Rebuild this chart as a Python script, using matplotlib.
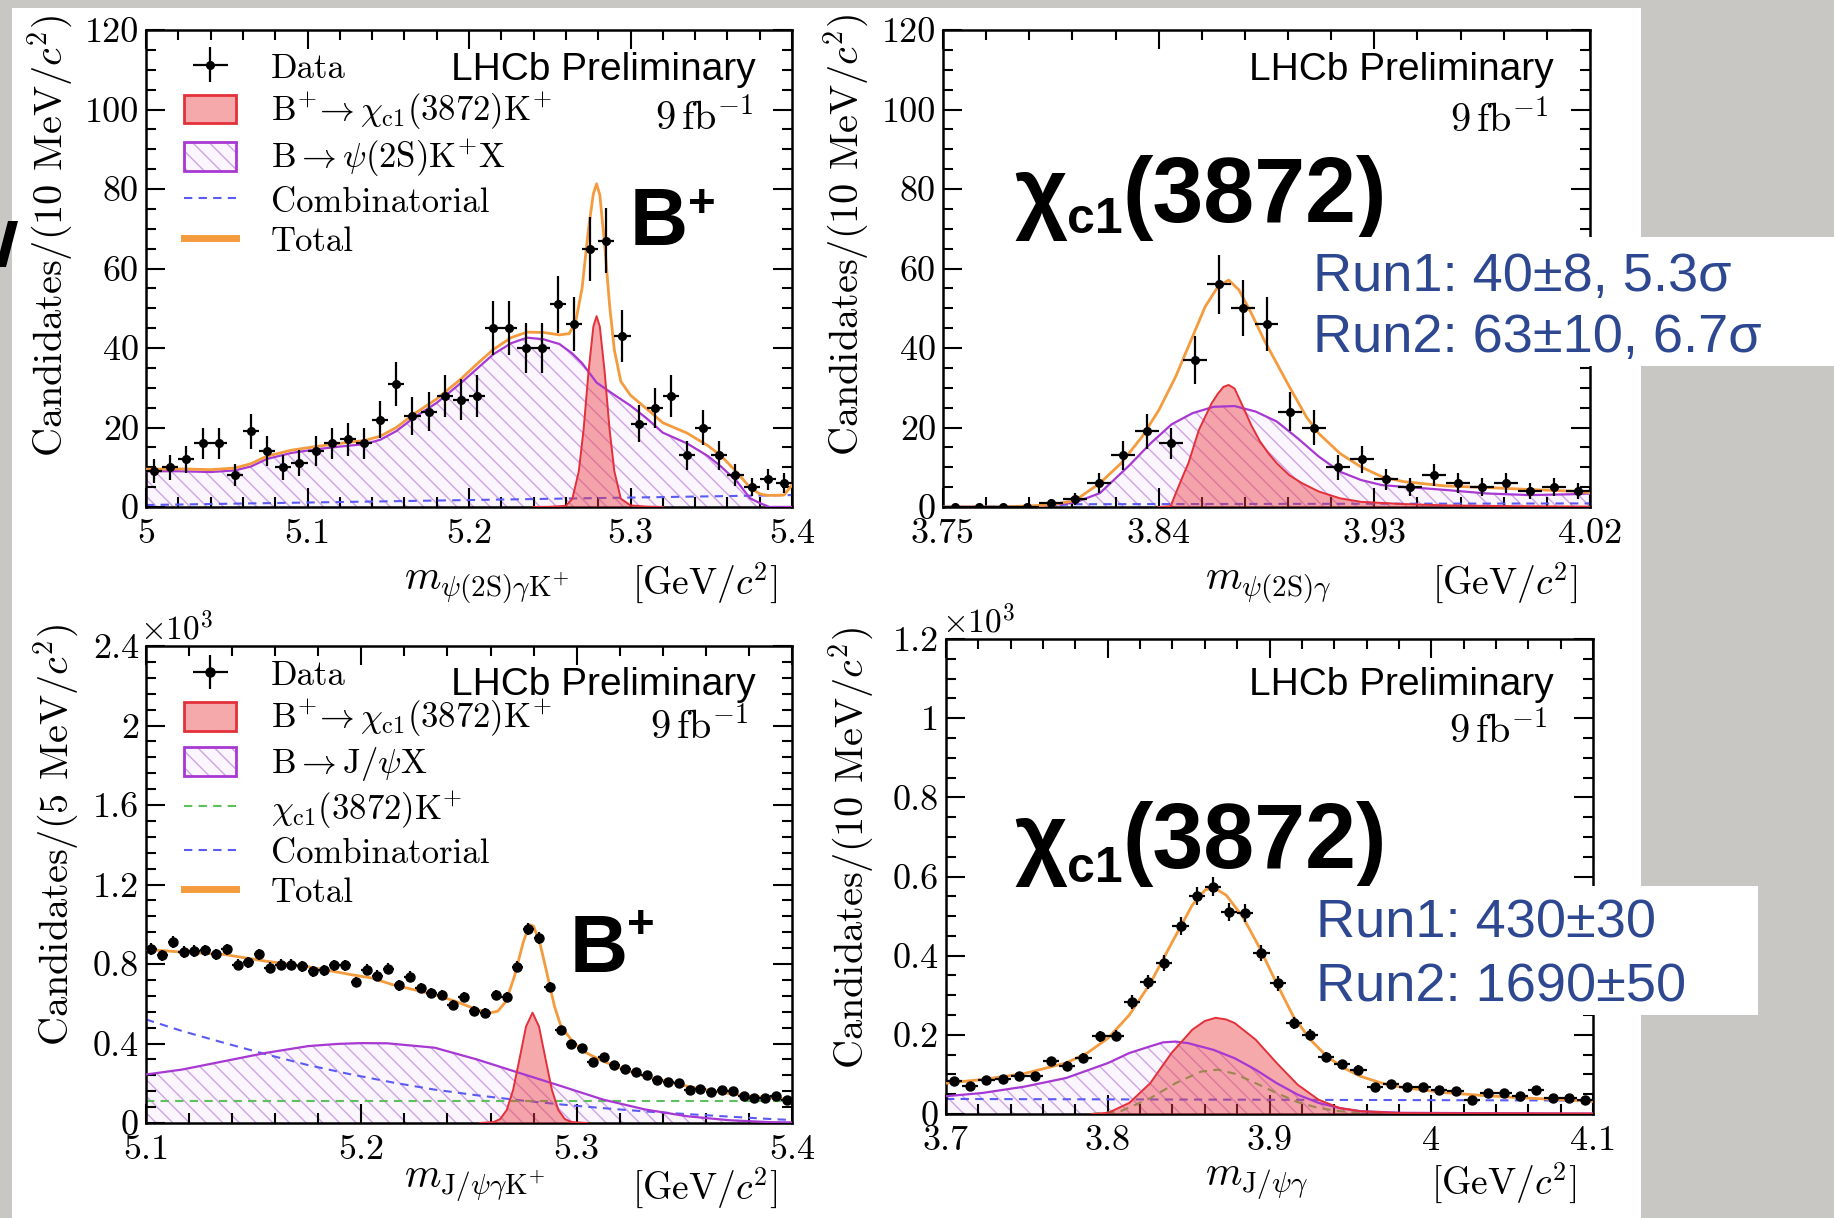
import numpy as np
import matplotlib
matplotlib.use("Agg")
import matplotlib.pyplot as plt
from matplotlib.patches import Patch, Rectangle, Polygon
from matplotlib.lines import Line2D
from matplotlib.ticker import AutoMinorLocator

plt.rcParams["font.family"] = "cmr10"
plt.rcParams["mathtext.fontset"] = "cm"
plt.rcParams["axes.formatter.use_mathtext"] = True
plt.rcParams["axes.unicode_minus"] = False
plt.rcParams["hatch.linewidth"] = 1.0

W, H = 1834, 1218

# ---------------- B+ -> psi(2S) gamma K+ (top left) ----------------
tl_counts = [9, 10, 12, 16, 16, 8, 19, 14, 10, 11, 14, 16, 17, 16, 22, 31, 23, 24, 28, 27,
             28, 45, 45, 40, 40, 51, 46, 65, 67, 43, 21, 25, 28, 13, 20, 13, 8, 5, 7, 6]
tl_total_x = [5.000, 5.020, 5.040, 5.055, 5.065, 5.075, 5.090, 5.105, 5.120, 5.135, 5.145,
              5.155, 5.166, 5.180, 5.195, 5.205, 5.215, 5.226, 5.236, 5.246, 5.256, 5.262,
              5.266, 5.270, 5.274, 5.277, 5.279, 5.281, 5.284, 5.287, 5.290, 5.294, 5.300,
              5.310, 5.320, 5.335, 5.348, 5.356, 5.366, 5.374, 5.380, 5.385, 5.395, 5.400]
tl_total_y = [9.5, 9.6, 9.4, 9.8, 10.9, 12.8, 14.3, 15.2, 16.0, 16.7, 17.8,
              20.0, 23.4, 27.2, 32.2, 36.0, 39.6, 42.6, 44.0, 43.9, 43.3, 43.6,
              46.5, 55.0, 70.0, 78.8, 81.3, 78.5, 66.0, 51.0, 39.5, 31.6, 28.1,
              24.7, 21.2, 18.6, 15.4, 12.9, 8.7, 4.9, 3.3, 2.9, 3.0, 5.5]
tl_bkg_x = [5.000, 5.020, 5.040, 5.055, 5.065, 5.075, 5.090, 5.105, 5.120, 5.135, 5.145, 5.155,
            5.166, 5.180, 5.195, 5.205, 5.215, 5.226, 5.236, 5.246, 5.256, 5.264, 5.270, 5.279,
            5.290, 5.300, 5.310, 5.320, 5.335, 5.348, 5.356, 5.366, 5.374, 5.380, 5.386, 5.400]
tl_bkg_y = [9.0, 9.0, 8.8, 9.2, 10.2, 12.1, 13.6, 14.5, 15.2, 15.8, 16.9, 19.1,
            22.5, 26.2, 31.2, 34.8, 38.4, 41.2, 42.6, 42.2, 41.0, 38.6, 36.2, 31.3,
            28.2, 25.5, 22.3, 18.7, 16.0, 12.8, 10.2, 6.4, 2.2, 1.0, 0.0, 0.0]
tl_sig_x = [5.240, 5.250, 5.260, 5.264, 5.268, 5.271, 5.274, 5.277, 5.279, 5.281, 5.284,
            5.287, 5.290, 5.294, 5.300, 5.310, 5.320]
tl_sig_y = [0.0, 0.05, 0.3, 2.1, 9.0, 19.7, 34.0, 45.4, 48.0, 45.4, 34.0,
            19.7, 9.0, 2.1, 0.4, 0.1, 0.0]
tl_comb_x = [5.0, 5.4]
tl_comb_y = [0.5, 3.0]

# ---------------- psi(2S) gamma mass (top right) ----------------
tr_counts = [0, 0, 0, 0, 1, 2, 6, 13, 19, 16, 37, 56, 50, 46, 24, 20, 10, 12, 7, 5,
             8, 6, 5, 6, 4, 5, 4]
tr_total_x = [3.750, 3.775, 3.7944, 3.805, 3.8155, 3.8243, 3.8331, 3.8401, 3.8471, 3.8541,
              3.8594, 3.8647, 3.8692, 3.8735, 3.8787, 3.8840, 3.8893, 3.8945, 3.9016, 3.9068,
              3.9156, 3.9244, 3.9332, 3.9420, 3.9595, 3.9770, 3.9947, 4.0122, 4.0200]
tr_total_y = [0.0, 0.0, 0.5, 1.6, 6.0, 11.0, 17.7, 24.4, 32.8, 42.8,
              50.4, 55.4, 57.1, 54.6, 48.7, 42.0, 36.1, 30.3, 22.7, 18.5,
              13.5, 10.1, 7.6, 6.4, 5.3, 4.9, 4.4, 4.0, 3.6]
tr_bkg_x = [3.750, 3.785, 3.795, 3.805, 3.8155, 3.8278, 3.8366, 3.8454, 3.8541, 3.8629,
            3.8717, 3.8805, 3.8893, 3.8980, 3.9068, 3.9156, 3.9244, 3.9332, 3.9420, 3.9595,
            3.9770, 3.9947, 4.0122, 4.0200]
tr_bkg_y = [0.0, 0.1, 0.5, 1.1, 3.5, 10.5, 16.0, 20.8, 23.6, 25.2,
            25.4, 24.0, 21.5, 17.3, 12.7, 8.9, 6.8, 5.5, 5.1, 4.3,
            3.4, 3.0, 3.2, 3.4]
tr_sig_x = [3.840, 3.845, 3.8471, 3.8506, 3.8524, 3.8568, 3.8621, 3.8647, 3.8670, 3.8692,
            3.8717, 3.8752, 3.8787, 3.8823, 3.8858, 3.8893, 3.8945, 3.8998, 3.9068, 3.9156,
            3.9244, 3.9420, 3.9600, 3.9900, 4.0200]
tr_sig_y = [0.0, 0.2, 3.4, 8.5, 11.0, 19.4, 26.1, 28.5, 30.2, 30.7,
            29.8, 25.2, 20.5, 16.5, 13.5, 11.0, 8.0, 6.0, 3.9, 2.2,
            1.3, 0.75, 0.4, 0.2, 0.1]
tr_comb_x = [3.750, 3.785, 3.805, 4.020]
tr_comb_y = [0.0, 0.1, 0.7, 0.9]

# ---------------- B+ -> J/psi gamma K+ (bottom left), in 10^3 ----------------
bl_counts = [0.876, 0.843, 0.910, 0.860, 0.865, 0.868, 0.848, 0.873, 0.797, 0.809,
             0.848, 0.781, 0.797, 0.797, 0.789, 0.764, 0.769, 0.793, 0.793, 0.709,
             0.772, 0.742, 0.777, 0.692, 0.736, 0.680, 0.655, 0.646, 0.593, 0.633,
             0.566, 0.554, 0.644, 0.633, 0.786, 0.977, 0.929, 0.685, 0.467, 0.400,
             0.378, 0.306, 0.333, 0.294, 0.272, 0.256, 0.239, 0.214, 0.207, 0.199,
             0.168, 0.172, 0.157, 0.168, 0.160, 0.135, 0.126, 0.126, 0.135, 0.118]
bl_total_x = [5.1000, 5.1168, 5.1363, 5.1558, 5.1754, 5.1949, 5.2047, 5.2145, 5.2243, 5.2340,
              5.2438, 5.2536, 5.2594, 5.2633, 5.2672, 5.2711, 5.2751, 5.2780, 5.2800, 5.2829,
              5.2858, 5.2897, 5.2927, 5.2986, 5.3044, 5.3122, 5.3220, 5.3318, 5.3415, 5.3513,
              5.3611, 5.3708, 5.3806, 5.3904, 5.4000]
bl_total_y = [0.873, 0.860, 0.848, 0.814, 0.786, 0.747, 0.730, 0.696, 0.671, 0.646,
              0.612, 0.571, 0.554, 0.562, 0.612, 0.738, 0.906, 0.998, 0.990, 0.906,
              0.772, 0.587, 0.487, 0.403, 0.353, 0.311, 0.269, 0.235, 0.210, 0.185,
              0.165, 0.148, 0.135, 0.126, 0.118]
bl_bkg_x = [5.1000, 5.1168, 5.1363, 5.1558, 5.1754, 5.1890, 5.2000, 5.2120, 5.2340, 5.2536,
            5.2731, 5.2927, 5.3122, 5.3318, 5.3513, 5.3708, 5.3904, 5.4000]
bl_bkg_y = [0.244, 0.269, 0.311, 0.353, 0.387, 0.398, 0.402, 0.401, 0.379, 0.320,
            0.253, 0.186, 0.118, 0.068, 0.034, 0.014, 0.004, 0.003]
bl_sig_x = [5.2550, 5.2615, 5.2645, 5.2675, 5.2705, 5.2735, 5.2765, 5.2795, 5.2825, 5.2855,
            5.2885, 5.2915, 5.2945, 5.2975, 5.3050]
bl_sig_y = [0.000, 0.005, 0.020, 0.065, 0.167, 0.325, 0.486, 0.555, 0.486, 0.325,
            0.167, 0.065, 0.020, 0.005, 0.000]
bl_comb_x = [5.100, 5.117, 5.136, 5.156, 5.175, 5.195, 5.215, 5.234, 5.254, 5.273,
             5.293, 5.312, 5.332, 5.351, 5.371, 5.390, 5.400]
bl_comb_y = [0.521, 0.462, 0.404, 0.345, 0.292, 0.245, 0.203, 0.168, 0.139, 0.115,
             0.093, 0.075, 0.058, 0.045, 0.032, 0.020, 0.015]
bl_peak_x = [5.1, 5.4]
bl_peak_y = [0.11, 0.11]

# ---------------- J/psi gamma mass (bottom right), in 10^3 ----------------
br_counts = [0.083, 0.072, 0.087, 0.089, 0.097, 0.097, 0.133, 0.122, 0.141, 0.196,
             0.198, 0.283, 0.333, 0.381, 0.475, 0.551, 0.574, 0.511, 0.508, 0.406,
             0.330, 0.230, 0.200, 0.145, 0.126, 0.112, 0.068, 0.077, 0.068, 0.068,
             0.060, 0.057, 0.035, 0.053, 0.053, 0.046, 0.061, 0.041, 0.041, 0.035]
br_total_x = [3.7000, 3.7223, 3.7483, 3.7743, 3.7873, 3.8003, 3.8133, 3.8263, 3.8394, 3.8523,
              3.8602, 3.8654, 3.8732, 3.8835, 3.8940, 3.9044, 3.9148, 3.9252, 3.9356, 3.9460,
              3.9564, 3.9694, 3.9824, 4.0084, 4.0344, 4.0604, 4.0864, 4.1000]
br_total_y = [0.078, 0.087, 0.102, 0.129, 0.154, 0.192, 0.250, 0.330, 0.431, 0.528,
              0.566, 0.572, 0.553, 0.498, 0.419, 0.330, 0.246, 0.188, 0.145, 0.116,
              0.095, 0.078, 0.067, 0.054, 0.046, 0.040, 0.035, 0.032]
br_bkg_x = [3.7000, 3.7223, 3.7483, 3.7743, 3.8003, 3.8133, 3.8263, 3.8342, 3.8419, 3.8497,
            3.8654, 3.8784, 3.8914, 3.9044, 3.9174, 3.9304, 3.9434, 3.9564, 3.9824, 4.0344,
            4.1000]
br_bkg_y = [0.045, 0.053, 0.069, 0.091, 0.129, 0.154, 0.171, 0.181, 0.183, 0.179,
            0.162, 0.141, 0.112, 0.078, 0.049, 0.028, 0.015, 0.007, 0.003, 0.002,
            0.001]
br_sig_x = [3.7900, 3.8003, 3.8133, 3.8263, 3.8394, 3.8523, 3.8600, 3.8667, 3.8730, 3.8784,
            3.8914, 3.9044, 3.9174, 3.9304, 3.9434, 3.9564, 3.9824, 4.1000]
br_sig_y = [0.000, 0.003, 0.028, 0.078, 0.154, 0.213, 0.235, 0.243, 0.239, 0.230,
            0.188, 0.129, 0.074, 0.036, 0.015, 0.007, 0.002, 0.001]
br_peak_x = [3.7900, 3.8080, 3.8263, 3.8420, 3.8576, 3.8680, 3.8784, 3.8914, 3.9044, 3.9174,
             3.9304, 3.9434, 3.9600]
br_peak_y = [0.000, 0.007, 0.040, 0.078, 0.107, 0.112, 0.102, 0.078, 0.053, 0.030,
             0.015, 0.007, 0.002]
br_comb_x = [3.7, 4.1]
br_comb_y = [0.038, 0.034]

# tick labels
tl_xticks, tl_xlabels = [5.0, 5.1, 5.2, 5.3, 5.4], ["5", "5.1", "5.2", "5.3", "5.4"]
tr_xticks, tr_xlabels = [3.75, 3.84, 3.93, 4.02], ["3.75", "3.84", "3.93", "4.02"]
bl_xticks, bl_xlabels = [5.1, 5.2, 5.3, 5.4], ["5.1", "5.2", "5.3", "5.4"]
br_xticks, br_xlabels = [3.7, 3.8, 3.9, 4.0, 4.1], ["3.7", "3.8", "3.9", "4", "4.1"]
top_yticks, top_ylabels = [0, 20, 40, 60, 80, 100, 120], ["0", "20", "40", "60", "80", "100", "120"]
bl_yticks, bl_ylabels = [0, 0.4, 0.8, 1.2, 1.6, 2.0, 2.4], ["0", "0.4", "0.8", "1.2", "1.6", "2", "2.4"]
br_yticks, br_ylabels = [0, 0.2, 0.4, 0.6, 0.8, 1.0, 1.2], ["0", "0.2", "0.4", "0.6", "0.8", "1", "1.2"]

RED_FACE = (0.93, 0.25, 0.27, 0.45)
RED_EDGE = "#e3303a"
PURPLE = "#a838d2"
HATCH = "#cfa4e6"
LAVENDER = "#fbf5fd"
ORANGE = "#f49b3e"
BLUE = "#5b5bf2"
GREEN = "#5dbf5d"
TEXT_BLUE = "#2d4791"
GRAY = "#c8c7c4"
SANS = "Liberation Sans"
DASH = (0, (4, 3))

fig = plt.figure(figsize=(W / 100, H / 100), dpi=100)


def axes_px(left, top, right, bottom):
    return fig.add_axes([left / W, 1 - bottom / H, (right - left) / W, (bottom - top) / H])


def draw_fit(ax, bkg, sig, dashed, total):
    ax.fill_between(bkg[0], bkg[1], 0, facecolor=LAVENDER, edgecolor=HATCH, hatch=r"\\",
                    linewidth=0, zorder=1)
    for dx, dy, col in dashed:
        ax.plot(dx, dy, color=col, lw=1.5, ls=DASH, zorder=2)
    ax.fill_between(sig[0], sig[1], 0, facecolor=RED_FACE, linewidth=0, zorder=3)
    ax.plot(bkg[0], bkg[1], color=PURPLE, lw=1.6, zorder=4)
    ax.plot(sig[0], sig[1], color=RED_EDGE, lw=1.4, zorder=4)
    ax.plot(total[0], total[1], color=ORANGE, lw=2.0, zorder=5)


def draw_data(ax, lo, hi, counts, scale=1.0, ms=5.5):
    counts = np.asarray(counts, dtype=float)
    n = len(counts)
    width = (hi - lo) / n
    centres = np.linspace(lo + width / 2, hi - width / 2, n)
    err = np.sqrt(counts * scale) / scale
    return ax.errorbar(centres, counts, xerr=width / 2, yerr=err, fmt="o", ms=ms,
                       color="k", ecolor="k", elinewidth=1.6, capsize=0, zorder=6)


def style(ax, xlim, ylim, xt, xl, yt, yl, xminor, yminor):
    ax.set_xlim(xlim)
    ax.set_ylim(ylim)
    ax.set_xticks(xt, xl)
    ax.set_yticks(yt, yl)
    ax.xaxis.set_minor_locator(AutoMinorLocator(xminor))
    ax.yaxis.set_minor_locator(AutoMinorLocator(yminor))
    ax.tick_params(which="both", direction="in", top=True, right=True, width=1.5, labelsize=26)
    ax.tick_params(which="major", length=14)
    ax.tick_params(which="minor", length=7)
    ax.tick_params(axis="x", pad=8)
    ax.tick_params(axis="y", pad=5)
    for s in ax.spines.values():
        s.set_linewidth(1.8)


def legend(ax, handles, labels, top):
    ax.legend(handles, labels, loc="upper left", bbox_to_anchor=(0.059, top), frameon=False,
              fontsize=25, handlelength=1.5, handleheight=0.9, handletextpad=1.0,
              labelspacing=0.17, borderpad=0, borderaxespad=0)


def lhcb(ax, y_lhcb, x_lhcb, y_fb, x_fb):
    ax.text(x_lhcb, y_lhcb, "LHCb Preliminary", family=SANS, fontsize=28, ha="right",
            va="baseline", transform=ax.transAxes, zorder=8)
    ax.text(x_fb, y_fb, r"$9\,\mathrm{fb}^{-1}$", fontsize=29, ha="right", va="baseline",
            transform=ax.transAxes, zorder=8)


def xtitle(ax, mass, xm, ym, yu, xu):
    ax.text(xm, ym, mass, fontsize=30, ha="left", va="baseline", transform=ax.transAxes)
    ax.text(xu, yu, r"[GeV/$c^{2}$]", fontsize=27, ha="right", va="baseline",
            transform=ax.transAxes)


def bplus(ax, x, y, yplus):
    b = ax.text(x, y, "B", fontsize=58, weight="bold", family=SANS, ha="left",
                va="baseline", transform=ax.transAxes, zorder=8)
    ax.annotate("+", xy=(1, yplus), xycoords=(b, ax.transAxes), fontsize=34,
                weight="bold", family=SANS, ha="left", va="center", zorder=8)


def chic1(ax, x, y, ysub):
    kw = dict(weight="bold", family=SANS, zorder=8)
    t1 = ax.text(x, y, "χ", fontsize=66, ha="left", va="baseline", transform=ax.transAxes, **kw)
    t2 = ax.annotate("c1", xy=(1, ysub), xycoords=(t1, ax.transAxes), fontsize=36,
                     ha="left", va="baseline", **kw)
    ax.annotate("(3872)", xy=(1, y), xycoords=(t2, ax.transAxes), fontsize=66,
                ha="left", va="baseline", **kw)


sig_patch = Patch(facecolor=RED_FACE, edgecolor=RED_EDGE, linewidth=2)
bkg_patch = (Patch(facecolor=LAVENDER, edgecolor=HATCH, hatch=r"\\", linewidth=0),
             Patch(facecolor="none", edgecolor=PURPLE, linewidth=2))
comb_line = Line2D([], [], color=BLUE, lw=1.5, ls=DASH)
peak_line = Line2D([], [], color=GREEN, lw=1.5, ls=DASH)
total_line = Line2D([], [], color=ORANGE, lw=5)
sig_label = r"$\mathrm{B^{+}\!\rightarrow\chi_{c1}(3872)K^{+}}$"

# top left
ax1 = axes_px(146, 30, 792, 507)
draw_fit(ax1, (tl_bkg_x, tl_bkg_y), (tl_sig_x, tl_sig_y), [(tl_comb_x, tl_comb_y, BLUE)],
         (tl_total_x, tl_total_y))
d1 = draw_data(ax1, 5.0, 5.4, tl_counts)
style(ax1, (5.0, 5.4), (0, 120), tl_xticks, tl_xlabels, top_yticks, top_ylabels, 5, 4)
legend(ax1, [d1, sig_patch, bkg_patch, comb_line, total_line],
       ["Data", sig_label, r"$\mathrm{B\rightarrow\psi(2S)K^{+}X}$", "Combinatorial", "Total"],
       0.955)
lhcb(ax1, 0.895, 0.944, 0.790, 0.940)
bplus(ax1, 0.749, 0.549, 0.633)
xtitle(ax1, r"$m_{\mathrm{\psi(2S)\gamma K^{+}}}$", 0.399, -0.172, -0.183, 0.978)

# top right
ax2 = axes_px(943, 30, 1590, 507)
draw_fit(ax2, (tr_bkg_x, tr_bkg_y), (tr_sig_x, tr_sig_y), [(tr_comb_x, tr_comb_y, BLUE)],
         (tr_total_x, tr_total_y))
draw_data(ax2, 3.75, 4.02, tr_counts)
style(ax2, (3.75, 4.02), (0, 120), tr_xticks, tr_xlabels, top_yticks, top_ylabels, 5, 4)
lhcb(ax2, 0.895, 0.944, 0.786, 0.935)
chic1(ax2, 0.110, 0.597, 0.574)
xtitle(ax2, r"$m_{\mathrm{\psi(2S)\gamma}}$", 0.405, -0.172, -0.183, 0.980)

# bottom left
ax3 = axes_px(146, 646, 792, 1123)
draw_fit(ax3, (bl_bkg_x, bl_bkg_y), (bl_sig_x, bl_sig_y),
         [(bl_comb_x, bl_comb_y, BLUE), (bl_peak_x, bl_peak_y, GREEN)],
         (bl_total_x, bl_total_y))
d3 = draw_data(ax3, 5.1, 5.4, bl_counts, scale=1000.0, ms=6.5)
style(ax3, (5.1, 5.4), (0, 2.4), bl_xticks, bl_xlabels, bl_yticks, bl_ylabels, 5, 5)
legend(ax3, [d3, sig_patch, bkg_patch, peak_line, comb_line, total_line],
       ["Data", sig_label, r"$\mathrm{B\rightarrow J/\psi X}$",
        r"$\mathrm{\chi_{c1}(3872)K^{+}}$", "Combinatorial", "Total"],
       0.973)
lhcb(ax3, 0.897, 0.944, 0.805, 0.932)
bplus(ax3, 0.655, 0.316, 0.412)
ax3.text(-0.01, 1.0, r"$\times10^{3}$", fontsize=24, ha="left", va="bottom",
         transform=ax3.transAxes)
xtitle(ax3, r"$m_{\mathrm{J/\psi\gamma K^{+}}}$", 0.399, -0.135, -0.160, 0.978)

# bottom right
ax4 = axes_px(946, 639, 1593, 1114)
draw_fit(ax4, (br_bkg_x, br_bkg_y), (br_sig_x, br_sig_y),
         [(br_comb_x, br_comb_y, BLUE), (br_peak_x, br_peak_y, GREEN)],
         (br_total_x, br_total_y))
draw_data(ax4, 3.7, 4.1, br_counts, scale=1000.0, ms=6.5)
style(ax4, (3.7, 4.1), (0, 1.2), br_xticks, br_xlabels, br_yticks, br_ylabels, 5, 4)
lhcb(ax4, 0.882, 0.940, 0.782, 0.930)
chic1(ax4, 0.105, 0.518, 0.488)
ax4.text(-0.006, 1.0, r"$\times10^{3}$", fontsize=24, ha="left", va="bottom",
         transform=ax4.transAxes)
xtitle(ax4, r"$m_{\mathrm{J/\psi\gamma}}$", 0.400, -0.150, -0.170, 0.975)

# y axis titles
ytitle = dict(rotation=90, ha="center", va="top", fontsize=29)
fig.text(50 / W, 1 - 15 / H, r"Candidates/(10 MeV/$c^{2}$)", **ytitle)
fig.text(846 / W, 1 - 14 / H, r"Candidates/(10 MeV/$c^{2}$)", **ytitle)
fig.text(56 / W, 1 - 624 / H, r"Candidates/(5 MeV/$c^{2}$)", **ytitle)
fig.text(851 / W, 1 - 627 / H, r"Candidates/(10 MeV/$c^{2}$)", **ytitle)

# slide background around the plots
for x0, y0, w, h in [(0, 0, 12, H), (0, 0, 1641, 8), (1641, 0, W - 1641, H)]:
    fig.add_artist(Rectangle((x0 / W, 1 - (y0 + h) / H), w / W, h / H, transform=fig.transFigure,
                             facecolor=GRAY, edgecolor="none", zorder=-5))
stroke = [(8, 221), (18, 221), (6, 267), (-4, 267)]
fig.add_artist(Polygon([(x / W, 1 - y / H) for x, y in stroke], closed=True,
                       transform=fig.transFigure, facecolor="black", edgecolor="none", zorder=-4))

# yield boxes
for x0, y0, x1, y1 in [(1300, 237, W, 366), (1300, 886, 1758, 1015)]:
    fig.add_artist(Rectangle((x0 / W, 1 - y1 / H), (x1 - x0) / W, (y1 - y0) / H,
                             transform=fig.transFigure, facecolor="white", edgecolor="none",
                             zorder=10))
run_kw = dict(fontsize=39, color=TEXT_BLUE, family=SANS, va="baseline", zorder=12)
fig.text(1313 / W, 1 - 291 / H, "Run1: 40±8, 5.3σ", **run_kw)
fig.text(1313 / W, 1 - 352 / H, "Run2: 63±10, 6.7σ", **run_kw)
fig.text(1316 / W, 1 - 938 / H, "Run1: 430±30", **run_kw)
fig.text(1316 / W, 1 - 1001 / H, "Run2: 1690±50", **run_kw)

fig.savefig("out.png", dpi=100, facecolor="white")
